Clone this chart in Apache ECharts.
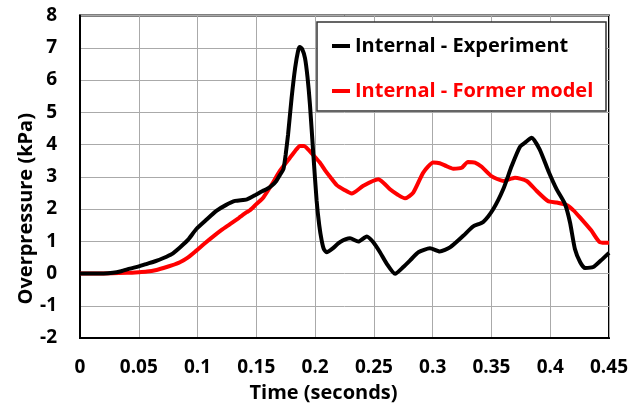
<!DOCTYPE html>
<html>
<head>
<meta charset="utf-8">
<script src="https://cdn.jsdelivr.net/npm/echarts@6/dist/echarts.min.js"></script>
<style>
  html, body { margin: 0; padding: 0; background: #fff; }
  #chart { width: 633px; height: 408px; }
</style>
</head>
<body>
<div id="chart"></div>
<script>
// Internal overpressure traces (time in seconds, overpressure in kPa)
const expTime = [0, 0.01, 0.02, 0.028, 0.035, 0.0425, 0.05, 0.057, 0.064, 0.071, 0.078, 0.085, 0.092, 0.099, 0.107, 0.116, 0.124, 0.132, 0.142, 0.150, 0.155, 0.159, 0.163, 0.167, 0.170, 0.173, 0.175, 0.177, 0.180, 0.183, 0.1855, 0.187, 0.189, 0.1914, 0.1935, 0.1956, 0.1985, 0.2013, 0.2035, 0.2056, 0.2075, 0.2098, 0.215, 0.221, 0.2297, 0.2368, 0.244, 0.2495, 0.2552, 0.261, 0.268, 0.275, 0.282, 0.2878, 0.2977, 0.306, 0.3147, 0.326, 0.3345, 0.343, 0.3516, 0.360, 0.3672, 0.3743, 0.380, 0.3842, 0.391, 0.3984, 0.4055, 0.4126, 0.4168, 0.421, 0.4255, 0.4296, 0.4366, 0.443, 0.45];
const expValue = [0, 0, 0, 0.02, 0.07, 0.15, 0.22, 0.30, 0.38, 0.48, 0.60, 0.81, 1.05, 1.38, 1.65, 1.94, 2.12, 2.25, 2.30, 2.45, 2.55, 2.62, 2.72, 2.87, 3.05, 3.23, 3.70, 4.31, 5.44, 6.37, 6.90, 7.02, 6.96, 6.68, 6.10, 5.24, 3.69, 2.25, 1.50, 1.02, 0.75, 0.66, 0.78, 0.97, 1.09, 0.99, 1.15, 0.97, 0.66, 0.30, -0.01, 0.20, 0.45, 0.66, 0.78, 0.68, 0.81, 1.17, 1.46, 1.60, 2.00, 2.61, 3.33, 3.93, 4.10, 4.21, 3.85, 3.18, 2.61, 2.15, 1.59, 0.76, 0.35, 0.17, 0.20, 0.40, 0.64];

const modelTime = [0, 0.02, 0.04, 0.05, 0.057, 0.064, 0.071, 0.078, 0.085, 0.092, 0.099, 0.106, 0.1134, 0.1205, 0.1276, 0.135, 0.1418, 0.1446, 0.150, 0.156, 0.163, 0.170, 0.1786, 0.183, 0.187, 0.1905, 0.194, 0.199, 0.204, 0.2085, 0.2127, 0.2184, 0.2245, 0.2311, 0.241, 0.2537, 0.2585, 0.2637, 0.27, 0.2765, 0.2835, 0.292, 0.3005, 0.306, 0.3117, 0.3175, 0.3247, 0.330, 0.336, 0.3417, 0.350, 0.360, 0.370, 0.380, 0.3885, 0.398, 0.4055, 0.414, 0.420, 0.4253, 0.435, 0.4423, 0.45];
const modelValue = [0, 0, 0.02, 0.04, 0.06, 0.10, 0.17, 0.25, 0.35, 0.50, 0.71, 0.93, 1.15, 1.35, 1.53, 1.72, 1.90, 1.96, 2.15, 2.36, 2.75, 3.18, 3.59, 3.80, 3.95, 3.95, 3.85, 3.65, 3.44, 3.20, 3.00, 2.74, 2.60, 2.48, 2.72, 2.92, 2.80, 2.61, 2.45, 2.33, 2.51, 3.13, 3.44, 3.42, 3.33, 3.25, 3.28, 3.46, 3.44, 3.31, 3.02, 2.87, 2.97, 2.87, 2.56, 2.25, 2.20, 2.12, 1.95, 1.74, 1.33, 0.97, 0.95];

const seriesNames = ['Internal - Experiment', 'Internal - Former model'];
const seriesColors = ['#000000', '#ff0000'];
const xTickLabels = ['0', '0.05', '0.1', '0.15', '0.2', '0.25', '0.3', '0.35', '0.4', '0.45'];

const FONT = '"Open Sans", "Noto Sans", sans-serif';
const zip = (xs, ys) => xs.map((x, i) => [x, ys[i]]);

const chart = echarts.init(document.getElementById('chart'), null, { renderer: 'canvas' });

chart.setOption({
  animation: false,
  backgroundColor: '#ffffff',
  grid: {
    left: 80, top: 15.5, right: 24, bottom: 68.5,
    show: true, borderColor: '#000', borderWidth: 2, backgroundColor: 'transparent'
  },
  xAxis: {
    type: 'value', min: 0, max: 0.45, interval: 0.05,
    name: 'Time (seconds)', nameLocation: 'middle', nameGap: 45, nameMoveOverlap: false,
    nameTextStyle: { fontFamily: FONT, fontWeight: 'bold', fontSize: 20, color: '#000', padding: [0, 42, 0, 0] },
    axisLine: { show: true, onZero: false, lineStyle: { color: '#000', width: 2 } },
    axisTick: { show: false },
    axisLabel: {
      margin: 20, fontFamily: FONT, fontWeight: 'bold', fontSize: 19, color: '#000',
      formatter: (v) => xTickLabels[Math.round(v / 0.05)] ?? ''
    },
    splitLine: { show: true, lineStyle: { color: '#aaaaaa', width: 1 } }
  },
  yAxis: {
    type: 'value', min: -2, max: 8, interval: 1,
    name: 'Overpressure (kPa)', nameLocation: 'middle', nameGap: 44, nameMoveOverlap: false,
    nameTextStyle: { fontFamily: FONT, fontWeight: 'bold', fontSize: 20, color: '#000', padding: [0, 64, 0, 0] },
    axisLine: { show: true, onZero: false, lineStyle: { color: '#000', width: 2 } },
    axisTick: { show: false },
    axisLabel: { margin: 23, fontFamily: FONT, fontWeight: 'bold', fontSize: 19, color: '#000' },
    splitLine: { show: true, lineStyle: { color: '#aaaaaa', width: 1 } }
  },
  graphic: [{
    type: 'rect', z: 3,
    shape: { x: 317, y: 22, width: 289, height: 89 },
    style: { fill: '#ffffff', stroke: '#333333', lineWidth: 1.5 }
  }],
  legend: {
    orient: 'vertical', left: 327, top: 29, z: 5,
    itemWidth: 18, itemHeight: 4, itemGap: 21, icon: 'rect',
    textStyle: { fontFamily: FONT, fontWeight: 'bold', fontSize: 20, lineHeight: 24 },
    data: seriesNames.map((n, i) => ({ name: n, textStyle: { color: seriesColors[i] } }))
  },
  series: [
    {
      name: seriesNames[0], type: 'line', symbol: 'none', smooth: 0.2, z: 3,
      color: seriesColors[0], lineStyle: { width: 4, color: seriesColors[0] },
      data: zip(expTime, expValue)
    },
    {
      name: seriesNames[1], type: 'line', symbol: 'none', smooth: 0.2, z: 2,
      color: seriesColors[1], lineStyle: { width: 4, color: seriesColors[1] },
      data: zip(modelTime, modelValue)
    }
  ]
});
</script>
</body>
</html>
